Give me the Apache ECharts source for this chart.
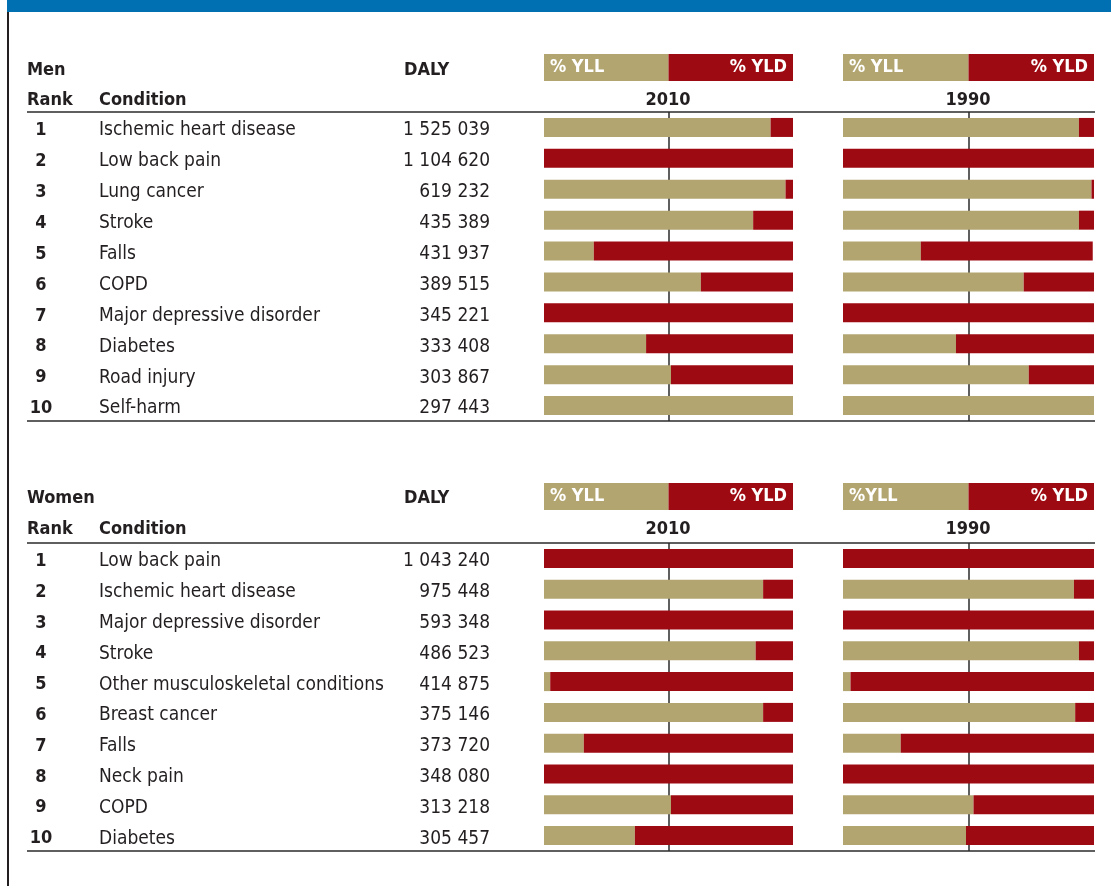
<!DOCTYPE html>
<html>
<head>
<meta charset="utf-8">
<script src="https://cdn.jsdelivr.net/npm/echarts@6/dist/echarts.min.js"></script>
<style>
  html, body { margin: 0; padding: 0; background: #fff; }
  #chart { width: 1111px; height: 886px; }
</style>
</head>
<body>
<div id="chart"></div>
<script>
// table columns
const ranks = ['1', '2', '3', '4', '5', '6', '7', '8', '9', '10']
const menConditions = ['Ischemic heart disease', 'Low back pain', 'Lung cancer', 'Stroke', 'Falls', 'COPD',
  'Major depressive disorder', 'Diabetes', 'Road injury', 'Self-harm']
const menDaly = ['1 525 039', '1 104 620', '619 232', '435 389', '431 937', '389 515', '345 221', '333 408', '303 867', '297 443']
const womenConditions = ['Low back pain', 'Ischemic heart disease', 'Major depressive disorder', 'Stroke',
  'Other musculoskeletal conditions', 'Breast cancer', 'Falls', 'Neck pain', 'COPD', 'Diabetes']
const womenDaly = ['1 043 240', '975 448', '593 348', '486 523', '414 875', '375 146', '373 720', '348 080', '313 218', '305 457']

// % YLL / % YLD per row
const menYll2010 = [91, 0, 97, 84, 20, 63, 0, 41, 51, 100]
const menYld2010 = [9, 100, 3, 16, 80, 37, 100, 59, 49, 0]
const menYll1990 = [94, 0, 99, 94, 31, 72, 0, 45, 74, 100]
const menYld1990 = [6, 100, 1, 6, 68.5, 28, 100, 55, 26, 0]
const womenYll2010 = [0, 88, 0, 85, 2.5, 88, 16, 0, 51, 36.5]
const womenYld2010 = [100, 12, 100, 15, 97.5, 12, 84, 100, 49, 63.5]
const womenYll1990 = [0, 92, 0, 94, 3, 92.5, 23, 0, 52, 49]
const womenYld1990 = [100, 8, 100, 6, 97, 7.5, 77, 100, 48, 51]

// header key boxes
const keyShare = [50]
const keyLabels = [['% YLL', '% YLD'], ['% YLL', '% YLD'], ['% YLL', '% YLD'], ['%YLL', '% YLD']]

const TAN = '#b2a570'
const RED = '#9e0a12'
const INK = '#231f20'
const FONT = '"DejaVu Sans Condensed", "Liberation Sans Narrow", sans-serif'

const chart = echarts.init(document.getElementById('chart'))

const panels = [
  { left: 544, width: 249, top: 112, height: 309, yll: menYll2010, yld: menYld2010, cond: menConditions, daly: menDaly, text: true },
  { left: 843, width: 251, top: 112, height: 309, yll: menYll1990, yld: menYld1990, cond: menConditions, text: false },
  { left: 544, width: 249, top: 543, height: 308, yll: womenYll2010, yld: womenYld2010, cond: womenConditions, daly: womenDaly, text: true },
  { left: 843, width: 251, top: 543, height: 308, yll: womenYll1990, yld: womenYld1990, cond: womenConditions, text: false }
]
const keys = [
  { left: 544, width: 249, top: 54 },
  { left: 843, width: 251, top: 54 },
  { left: 544, width: 249, top: 483 },
  { left: 843, width: 251, top: 483 }
]

let grid = []
let xAxis = []
let yAxis = []
let series = []

function hiddenCat (gridIndex, data) {
  return {
    type: 'category', gridIndex, data, inverse: true, position: 'left', offset: 0,
    axisLine: { show: false }, axisTick: { show: false }, splitLine: { show: false },
    axisLabel: { show: false }
  }
}

// row labels sit a little below the bar centre, as in the print
function rowLabel (align, margin, extra) {
  return Object.assign({
    show: true, interval: 0, align, margin, verticalAlign: 'top', lineHeight: 6,
    fontFamily: FONT, fontSize: 19, color: INK
  }, extra || {})
}

panels.forEach((p, i) => {
  grid.push({ left: p.left, top: p.top, width: p.width, height: p.height, outerBoundsMode: 'none', containLabel: false })
  xAxis.push({
    type: 'value', gridIndex: i, min: 0, max: 100, interval: 50,
    axisLine: { show: false }, axisTick: { show: false }, axisLabel: { show: false },
    splitLine: { show: true, lineStyle: { color: ['transparent', '#2a2a2a', 'transparent'], width: 1.5 } }
  })
  let mainY = yAxis.length
  let condAxis = hiddenCat(i, p.cond)
  if (p.text) condAxis.axisLabel = rowLabel('left', p.left - 99)
  yAxis.push(condAxis)
  if (p.text) {
    let rankAxis = hiddenCat(i, ranks)
    rankAxis.axisLabel = rowLabel('center', p.left - 41, { fontSize: 18, fontWeight: 'bold' })
    yAxis.push(rankAxis)
    let dalyAxis = hiddenCat(i, p.daly)
    dalyAxis.axisLabel = rowLabel('right', p.left - 490)
    yAxis.push(dalyAxis)
  }
  series.push({
    type: 'bar', name: '% YLL', xAxisIndex: i, yAxisIndex: mainY, stack: 'p' + i,
    barWidth: 19, data: p.yll, itemStyle: { color: TAN }, silent: true
  })
  series.push({
    type: 'bar', name: '% YLD', xAxisIndex: i, yAxisIndex: mainY, stack: 'p' + i,
    barWidth: 19, data: p.yld, itemStyle: { color: RED }, silent: true
  })
})

keys.forEach((k, j) => {
  let gi = grid.length
  grid.push({ left: k.left, top: k.top, width: k.width, height: 27, outerBoundsMode: 'none', containLabel: false })
  xAxis.push({
    type: 'value', gridIndex: gi, min: 0, max: 100, show: false, splitLine: { show: false }
  })
  let yi = yAxis.length
  yAxis.push(hiddenCat(gi, ['key']))
  const lab = (text, pos) => ({
    show: true, position: pos, distance: 6, formatter: text,
    color: '#fff', fontFamily: FONT, fontSize: 18, fontWeight: 'bold'
  })
  series.push({
    type: 'bar', xAxisIndex: gi, yAxisIndex: yi, stack: 'k' + j, barWidth: 27, silent: true,
    data: keyShare, itemStyle: { color: TAN }, label: lab(keyLabels[j][0], 'insideLeft')
  })
  series.push({
    type: 'bar', xAxisIndex: gi, yAxisIndex: yi, stack: 'k' + j, barWidth: 27, silent: true,
    data: keyShare, itemStyle: { color: RED }, label: lab(keyLabels[j][1], 'insideRight')
  })
})

function txt (x, y, text, opts) {
  return {
    type: 'text', x, y, silent: true,
    style: Object.assign({
      text, fill: INK, font: 'bold 18px ' + FONT, verticalAlign: 'middle', align: 'left'
    }, opts || {})
  }
}
function hline (y) {
  return {
    type: 'line', silent: true,
    shape: { x1: 27, y1: y, x2: 1095, y2: y },
    style: { stroke: '#2a2a2a', lineWidth: 1.6 }
  }
}

const graphic = [
  { type: 'rect', shape: { x: 7, y: 0, width: 1104, height: 12 }, style: { fill: '#0070b3' }, silent: true },
  { type: 'rect', shape: { x: 7, y: 12, width: 2, height: 874 }, style: { fill: '#231f20' }, silent: true },
  txt(27, 5, 'FIGURE 1', { fill: '#fff', font: 'bold 20px ' + FONT, verticalAlign: 'bottom' }),
  txt(27, 70, 'Men'), txt(404, 70, 'DALY'),
  txt(27, 100, 'Rank'), txt(99, 100, 'Condition'),
  txt(668, 100, '2010', { align: 'center' }), txt(968, 100, '1990', { align: 'center' }),
  txt(27, 498, 'Women'), txt(404, 498, 'DALY'),
  txt(27, 529, 'Rank'), txt(99, 529, 'Condition'),
  txt(668, 529, '2010', { align: 'center' }), txt(968, 529, '1990', { align: 'center' }),
  hline(112), hline(421), hline(543), hline(851)
]

chart.setOption({
  animation: false,
  grid, xAxis, yAxis, series, graphic
})
</script>
</body>
</html>
